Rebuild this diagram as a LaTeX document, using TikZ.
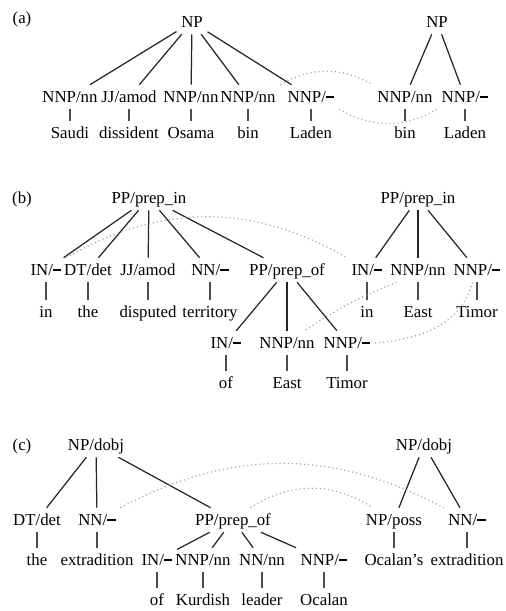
\documentclass[tikz,border=0pt]{standalone}
\usepackage{fontspec}
\setmainfont{Liberation Serif}
\newcommand{\depnone}{\rule[0.6ex]{0.5em}{0.85pt}}

\tikzset{
  tag/.style={inner sep=2.5pt, text height=1.6ex, text depth=0.25ex, font=\fontsize{9.5}{11}\selectfont},
  branch/.style={line width=0.7pt, black!85},
  stem/.style={line width=0.7pt, black!70},
  corr/.style={line width=0.7pt, gray!75, dash pattern=on 0.6pt off 1.7pt}
}

\begin{document}
\begin{tikzpicture}[x=0.565pt,y=-0.565pt]
\useasboundingbox (0,0) rectangle (506,611);

% (a)
\node[tag] (alab) at (22,18) {(a)};
\node[tag] (aNP) at (192,22) {NP};
\node[tag] (aNPr) at (437,22) {NP};
\foreach \n/\lbl/\wrd/\x in {%
    a1/{NNP/nn}/Saudi/70, a2/{JJ/amod}/dissident/129, a3/{NNP/nn}/Osama/191,%
    a4/{NNP/nn}/bin/248, a5/{NNP/\depnone}/Laden/311,%
    a6/{NNP/nn}/bin/405, a7/{NNP/\depnone}/Laden/465%
}{
    \node[tag] (\n) at (\x,97) {\lbl};
    \node[tag] (\n w) at (\x,133) {\wrd};
    \draw[stem] (\n) -- (\n w);
}
\foreach \c in {a1,a2,a3,a4,a5} \draw[branch] (aNP) -- (\c);
\foreach \c in {a6,a7} \draw[branch] (aNPr) -- (\c);
\draw[corr] (a4.north east) to[bend left=30] (a6.north west);
\draw[corr] (a5.south east) to[bend right=30] (a7.south west);

% (b)
\node[tag] (blab) at (22,198) {(b)};
\node[tag] (bPP) at (149,198) {PP/prep\_in};
\node[tag] (bPPr) at (418,198) {PP/prep\_in};
\foreach \n/\lbl/\wrd/\x in {%
    b1/{IN/\depnone}/in/46, b2/{DT/det}/the/88, b3/{JJ/amod}/disputed/148,%
    b4/{NN/\depnone}/territory/210,%
    b9/{IN/\depnone}/in/367, b10/{NNP/nn}/East/418, b11/{NNP/\depnone}/Timor/477%
}{
    \node[tag] (\n) at (\x,270) {\lbl};
    \node[tag] (\n w) at (\x,312) {\wrd};
    \draw[stem] (\n) -- (\n w);
}
\node[tag] (b5) at (287,270) {PP/prep\_of};
\foreach \n/\lbl/\wrd/\x in {%
    b6/{IN/\depnone}/of/226, b7/{NNP/nn}/East/287, b8/{NNP/\depnone}/Timor/347%
}{
    \node[tag] (\n) at (\x,343) {\lbl};
    \node[tag] (\n w) at (\x,383) {\wrd};
    \draw[stem] (\n) -- (\n w);
}
\foreach \c in {b1,b2,b3,b4,b5} \draw[branch] (bPP) -- (\c);
\foreach \c in {b6,b7,b8} \draw[branch] (b5) -- (\c);
\foreach \c in {b9,b10,b11} \draw[branch] (bPPr) -- (\c);
\draw[corr] (b1.north east) to[bend left=30] (b9.north west);
\draw[corr] (b10.-150) to[bend right=6] (b7.35);
\draw[corr] (b11.-110) to[out=-105,in=5] (b8.east);

% (c)
\node[tag] (clab) at (22,445) {(c)};
\node[tag] (cNP) at (96,445) {NP/dobj};
\node[tag] (cNPr) at (424,445) {NP/dobj};
\foreach \n/\lbl/\wrd/\x in {%
    c1/{DT/det}/the/37, c2/{NN/\depnone}/extradition/97,%
    c8/{NP/poss}/Ocalan's/394, c9/{NN/\depnone}/extradition/467%
}{
    \node[tag] (\n) at (\x,520) {\lbl};
    \node[tag] (\n w) at (\x,560) {\wrd};
    \draw[stem] (\n) -- (\n w);
}
\node[tag] (c3) at (233,520) {PP/prep\_of};
\foreach \n/\lbl/\wrd/\x in {%
    c4/{IN/\depnone}/of/157, c5/{NNP/nn}/Kurdish/203, c6/{NN/nn}/leader/262,%
    c7/{NNP/\depnone}/Ocalan/324%
}{
    \node[tag] (\n) at (\x,560) {\lbl};
    \node[tag] (\n w) at (\x,600) {\wrd};
    \draw[stem] (\n) -- (\n w);
}
\foreach \c in {c1,c2,c3} \draw[branch] (cNP) -- (\c);
\foreach \c in {c4,c5,c6,c7} \draw[branch] (c3) -- (\c);
\foreach \c in {c8,c9} \draw[branch] (cNPr) -- (\c);
\draw[corr] (c2.north east) to[bend left=28] (c9.north west);
\draw[corr] (c3.35) to[bend left=33] (c8.150);
\end{tikzpicture}
\end{document}
